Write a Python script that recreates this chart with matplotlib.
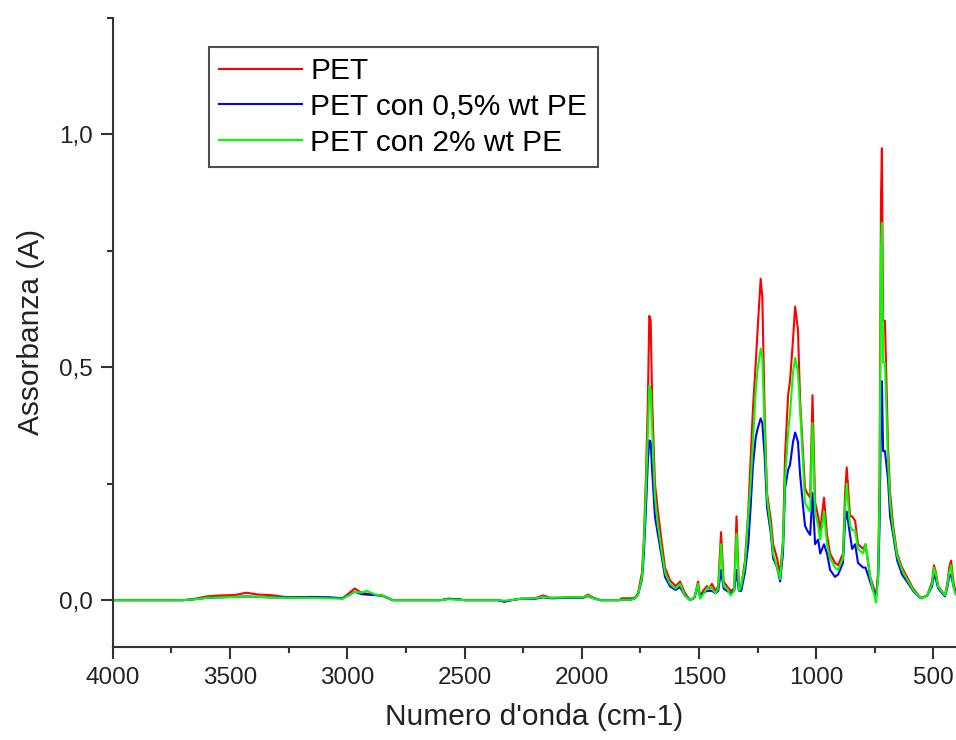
import matplotlib
matplotlib.use("Agg")
import matplotlib.pyplot as plt
from matplotlib.ticker import MultipleLocator, FuncFormatter

plt.rcParams['font.family'] = ['Liberation Sans', 'DejaVu Sans']

# numero d'onda (cm-1) e assorbanza dei tre campioni
wn = [4000, 3800, 3700, 3650, 3600, 3550, 3480, 3430, 3380, 3330, 3250, 3150, 3070, 3020,
      2968, 2940, 2917, 2880, 2850, 2805, 2600, 2570, 2530, 2500, 2360, 2330, 2300, 2260,
      2200, 2165, 2130, 2050, 1995, 1974, 1950, 1920, 1840, 1830, 1790, 1773, 1760, 1743,
      1735, 1726, 1718, 1712, 1706, 1700, 1688, 1675, 1658, 1645, 1624, 1600, 1581, 1560,
      1538, 1520, 1504, 1495, 1483, 1466, 1455, 1445, 1430, 1418, 1406, 1395, 1381, 1365,
      1350, 1340, 1330, 1320, 1304, 1290, 1280, 1270, 1258, 1249, 1237, 1230, 1220, 1210,
      1193, 1184, 1167, 1154, 1142, 1133, 1120, 1112, 1099, 1090, 1078, 1069, 1056, 1048,
      1039, 1026, 1016, 1005, 992, 983, 967, 954, 941, 920, 907, 886, 877, 870, 856, 847,
      834, 822, 800, 790, 770, 757, 745, 736, 730, 724, 720, 715, 707, 694, 685, 672, 655,
      634, 613, 587, 560, 549, 527, 506, 498, 490, 480, 451, 440, 433, 425, 415, 408, 400]

pet = [0, 0, 0, 0.003, 0.008, 0.010, 0.011, 0.016, 0.012, 0.011, 0.006, 0.006, 0.005, 0.004,
       0.025, 0.016, 0.014, 0.011, 0.009, 0, 0, 0.003, 0.002, 0, 0, -0.003, 0, 0.003,
       0.004, 0.010, 0.005, 0.006, 0.006, 0.012, 0.005, 0, 0, 0.004, 0.004, 0.005, 0.015, 0.06,
       0.135, 0.27, 0.43, 0.61, 0.60, 0.43, 0.25, 0.19, 0.12, 0.07, 0.043, 0.03, 0.04, 0.015,
       0, 0.005, 0.04, 0.005, 0.02, 0.03, 0.025, 0.035, 0.02, 0.03, 0.146, 0.04, 0.03, 0.02,
       0.025, 0.18, 0.03, 0.03, 0.085, 0.19, 0.30, 0.41, 0.51, 0.59, 0.69, 0.65, 0.40, 0.23,
       0.17, 0.12, 0.09, 0.055, 0.13, 0.31, 0.44, 0.47, 0.56, 0.63, 0.58, 0.43, 0.31, 0.24,
       0.23, 0.22, 0.44, 0.21, 0.18, 0.15, 0.22, 0.14, 0.10, 0.08, 0.075, 0.10, 0.23, 0.285, 0.18, 0.18,
       0.17, 0.12, 0.11, 0.12, 0.05, 0.03, 0.005, 0.06, 0.27, 0.86, 0.97, 0.60, 0.60, 0.33, 0.23, 0.16, 0.10,
       0.07, 0.05, 0.025, 0.008, 0.005, 0.01, 0.04, 0.075, 0.06, 0.03, 0.01, 0.04, 0.07, 0.085, 0.04, 0.02, 0.01]

pet_05 = [0, 0, 0, 0.002, 0.005, 0.006, 0.007, 0.008, 0.007, 0.006, 0.006, 0.007, 0.006, 0.004,
          0.018, 0.013, 0.012, 0.011, 0.010, 0, 0, 0.003, 0.002, 0, 0, -0.003, 0, 0.003,
          0.003, 0.006, 0.004, 0.005, 0.005, 0.009, 0.004, 0, 0, 0.001, 0.001, 0.004, 0.012, 0.045,
          0.10, 0.20, 0.30, 0.343, 0.34, 0.28, 0.18, 0.14, 0.09, 0.05, 0.03, 0.022, 0.028, 0.01,
          0, 0.005, 0.03, 0.005, 0.015, 0.02, 0.02, 0.02, 0.015, 0.02, 0.065, 0.025, 0.02, 0.015,
          0.02, 0.065, 0.02, 0.02, 0.06, 0.12, 0.20, 0.29, 0.35, 0.37, 0.39, 0.38, 0.31, 0.20,
          0.14, 0.09, 0.07, 0.04, 0.10, 0.24, 0.28, 0.29, 0.34, 0.36, 0.34, 0.27, 0.20, 0.16,
          0.15, 0.14, 0.23, 0.12, 0.13, 0.10, 0.12, 0.10, 0.065, 0.05, 0.055, 0.08, 0.17, 0.19, 0.14, 0.11,
          0.12, 0.08, 0.07, 0.07, 0.04, 0.02, 0.01, 0.05, 0.16, 0.40, 0.47, 0.32, 0.32, 0.26, 0.18, 0.14, 0.086,
          0.055, 0.04, 0.02, 0.006, 0.004, 0.01, 0.03, 0.055, 0.045, 0.025, 0.008, 0.03, 0.05, 0.055, 0.03, 0.02, 0.01]

pet_2 = [0, 0, 0, 0.002, 0.005, 0.006, 0.007, 0.008, 0.007, 0.006, 0.005, 0.005, 0.004, 0.003,
         0.018, 0.016, 0.020, 0.012, 0.010, 0, 0, 0.002, 0.001, 0, 0, -0.001, 0, 0.003,
         0.004, 0.007, 0.005, 0.006, 0.006, 0.010, 0.004, 0, 0, 0.001, 0.001, 0.004, 0.012, 0.05,
         0.12, 0.24, 0.36, 0.46, 0.45, 0.37, 0.22, 0.16, 0.10, 0.06, 0.035, 0.025, 0.035, 0.01,
         0, 0.005, 0.035, 0.003, 0.012, 0.025, 0.03, 0.025, 0.015, 0.025, 0.12, 0.03, 0.025, 0.01,
         0.02, 0.143, 0.02, 0.03, 0.075, 0.18, 0.25, 0.34, 0.45, 0.50, 0.54, 0.52, 0.37, 0.22,
         0.15, 0.10, 0.07, 0.045, 0.12, 0.26, 0.36, 0.40, 0.49, 0.52, 0.49, 0.41, 0.29, 0.21,
         0.20, 0.19, 0.38, 0.19, 0.16, 0.13, 0.19, 0.12, 0.09, 0.07, 0.065, 0.09, 0.20, 0.25, 0.16, 0.15,
         0.15, 0.11, 0.10, 0.12, 0.05, 0.02, -0.005, 0.05, 0.22, 0.75, 0.81, 0.51, 0.51, 0.30, 0.21, 0.15, 0.095,
         0.065, 0.045, 0.022, 0.007, 0.004, 0.01, 0.035, 0.07, 0.055, 0.028, 0.01, 0.035, 0.06, 0.075, 0.03, 0.015, 0.01]

fig = plt.figure(figsize=(9.56, 7.4), dpi=100)
ax = fig.add_axes([0.118, 0.126, 0.882, 0.85])

ax.plot(wn, pet, color='#ff0000', lw=1.5, label='PET')
ax.plot(wn, pet_05, color='#0000ff', lw=1.5, label='PET con 0,5% wt PE')
ax.plot(wn, pet_2, color='#00ff00', lw=1.5, label='PET con 2% wt PE')

ax.set_xlim(4000, 404)
ax.set_ylim(-0.1, 1.25)

for s in ['top', 'right']:
    ax.spines[s].set_visible(False)
for s in ['left', 'bottom']:
    ax.spines[s].set_linewidth(1.5)
    ax.spines[s].set_color('#333333')

ax.xaxis.set_major_locator(MultipleLocator(500))
ax.xaxis.set_minor_locator(MultipleLocator(250))
ax.yaxis.set_major_locator(MultipleLocator(0.5))
ax.yaxis.set_minor_locator(MultipleLocator(0.25))
ax.yaxis.set_major_formatter(FuncFormatter(lambda v, p: f"{v:.1f}".replace('.', ',')))
ax.tick_params(which='major', direction='out', length=8.5, width=1.5, colors='#333333',
               labelsize=17.5, labelcolor='#222222', pad=6)
ax.tick_params(which='minor', direction='out', length=4.5, width=1.5, colors='#333333')

ax.set_xlabel("Numero d'onda (cm-1)", fontsize=21.5, color='#222222', labelpad=10)
ax.set_ylabel("Assorbanza (A)", fontsize=21.5, color='#222222', labelpad=10)

leg = ax.legend(loc='upper left', bbox_to_anchor=(0.114, 0.954), borderaxespad=0,
                fontsize=21.5, frameon=True, fancybox=False, handlelength=2.75,
                handletextpad=0.3, labelspacing=0.26, borderpad=0.35)
leg.get_frame().set_edgecolor('#222222')
leg.get_frame().set_linewidth(1.5)

fig.savefig('out.png', dpi=100)
